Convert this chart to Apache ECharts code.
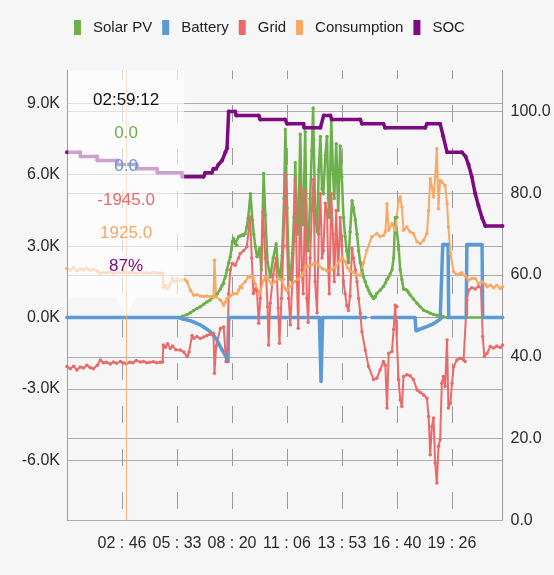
<!DOCTYPE html>
<html>
<head>
<meta charset="utf-8">
<script src="https://cdn.jsdelivr.net/npm/echarts@6/dist/echarts.min.js"></script>
<style>
  html, body { margin: 0; padding: 0; background: #f6f6f6; }
  #chart { width: 554px; height: 575px; }
</style>
</head>
<body>
<div id="chart"></div>
<script>
// Daily energy flow. Each point: [minutes after midnight, watts] (SOC in percent).
const seriesNames = ['Solar PV', 'Battery', 'Grid', 'Consumption', 'SOC'];

const solarPV = [[0,0],[179.2,0],[338,0],[350,50],[364,120],[374,200],[384,300],[394,380],[404,450],[414,560],[424,650],[434,740],[444,860],[455,990],[465,1200],[470,1350],[475,1430],[480,1700],[485,2000],[490,2300],[495,2550],[501,3180],[505,3320],[510,3100],[515,3040],[520,3390],[525,3420],[530,3460],[535,3450],[540,3520],[545,3800],[549,4160],[556,5200],[562,4090],[566,3500],[571,2970],[576,2550],[581,2750],[584,2900],[589,2000],[596,6050],[601,4300],[608,2300],[616,1700],[625,2500],[634,3100],[640,2000],[646,1700],[652,2600],[658,5000],[662,7900],[667,4600],[672,2200],[677,1600],[683,2700],[688,4200],[692,6500],[697,4000],[701,3500],[707,7700],[712,4200],[716,3900],[722,7800],[727,3300],[731,2800],[737,5000],[742,7000],[746,8800],[752,4500],[758,3600],[763,6200],[768,7600],[773,5400],[777,5200],[783,6800],[788,7600],[792,5000],[795,4200],[801,8300],[806,6200],[810,5000],[816,7300],[822,4500],[828,7200],[833,5900],[838,4200],[843,3400],[848,2800],[853,2300],[858,3600],[864,4900],[868,4600],[874,4100],[879,3500],[884,2800],[889,2300],[894,2000],[899,1700],[904,1500],[909,1300],[914,1150],[919,1000],[924,900],[929,800],[934,850],[939,1000],[949,1150],[959,1300],[965,1450],[970,1600],[975,1700],[980,1850],[985,2000],[990,2500],[995,4200],[1000,4200],[1005,3000],[1010,2000],[1015,1600],[1020,1200],[1025,1180],[1030,1150],[1035,1050],[1040,950],[1050,780],[1061,600],[1071,450],[1081,310],[1091,250],[1101,180],[1111,130],[1121,100],[1131,60],[1141,30],[1152,0],[1320,0]];

const battery = [[0,0],[179.2,0],[338,0],[350,-60],[364,-100],[374,-134],[384,-190],[394,-250],[404,-314],[414,-400],[424,-490],[434,-595],[444,-750],[455,-943],[462,-1150],[470,-1362],[478,-1550],[485,-1710],[488,-1860],[490,0],[765,0],[770,-2690],[775,0],[906,0],[907,null],[924,0],[1055,0],[1058,-560],[1064,-520],[1071,-480],[1081,-430],[1091,-380],[1101,-320],[1111,-260],[1121,-170],[1131,-63],[1137,0],[1139,3070],[1155,3070],[1157,0],[1210,0],[1212,3070],[1258,3070],[1260,0],[1320,0]];

const grid = [[0,-2060],[10,-2150],[20,-2050],[30,-2200],[40,-2080],[50,-2120],[60,-2000],[70,-2100],[80,-2150],[92,-2000],[101,-1780],[110,-1900],[120,-1880],[131,-1950],[140,-1870],[150,-1920],[162,-1850],[170,-1900],[179.2,-1945],[190,-1880],[200,-1900],[210,-1800],[222,-1870],[232,-1850],[242,-1900],[252,-1880],[262,-1860],[272,-1900],[283,-1880],[290,-1870],[292,-1150],[298,-1250],[305,-1100],[313,-1300],[320,-1200],[330,-1350],[343,-1360],[354,-1450],[364,-1640],[370,-1450],[379,-750],[384,-870],[394,-800],[404,-880],[414,-820],[424,-750],[434,-700],[444,-660],[447,-2340],[452,-1200],[465,-450],[475,-400],[482,-1850],[486,-1400],[490,1000],[495,2000],[501,2270],[510,2200],[520,2500],[525,2690],[535,2800],[545,2970],[555,4220],[560,2500],[565,1010],[571,1200],[576,1100],[581,-240],[586,800],[594,4430],[601,2500],[608,450],[611,-1150],[616,600],[625,1800],[634,2500],[640,400],[644,-1080],[650,800],[656,3000],[662,6000],[667,3000],[672,800],[677,-300],[683,1500],[688,3200],[692,5800],[697,1500],[701,-450],[707,5500],[712,2000],[716,1000],[722,5300],[727,800],[731,-200],[737,2500],[742,4500],[747,5800],[752,1500],[758,200],[763,3500],[768,5200],[773,2500],[777,2800],[783,4800],[788,4500],[792,2000],[795,1000],[801,5200],[806,3500],[810,1500],[816,4500],[822,1800],[828,4200],[833,3000],[838,1500],[843,1000],[848,500],[853,300],[858,900],[864,2900],[868,2500],[874,2000],[879,1500],[884,800],[889,180],[894,-600],[904,-1360],[914,-2060],[929,-2600],[939,-2550],[949,-2200],[959,-1850],[965,-2000],[970,-3800],[975,-1500],[985,-1430],[990,-500],[995,520],[1000,450],[1005,-2600],[1010,-3460],[1015,-3740],[1020,-2480],[1030,-2400],[1040,-2450],[1050,-2600],[1061,-3040],[1071,-3150],[1081,-3250],[1091,-3390],[1096,-4160],[1101,-5760],[1106,-4580],[1111,-4220],[1116,-6110],[1121,-6950],[1126,-5410],[1131,-5130],[1136,-2760],[1141,-2480],[1146,-2900],[1152,-940],[1156,-3800],[1162,-3600],[1167,-2760],[1172,-2060],[1182,-1780],[1192,-1710],[1202,-1780],[1207,-1850],[1212,730],[1217,1150],[1227,1250],[1237,1200],[1247,1300],[1255,1250],[1260,-800],[1265,-1640],[1273,-1500],[1283,-1220],[1293,-1280],[1303,-1200],[1313,-1260],[1320,-1150]];

const consumption = [[0,2060],[10,2000],[20,2100],[30,1950],[40,2050],[50,2000],[60,2080],[70,1980],[80,2020],[92,1950],[101,1850],[110,1900],[120,1880],[131,1920],[140,1860],[150,1900],[162,1880],[170,1900],[179.2,1925],[190,1880],[200,1900],[210,1850],[222,1900],[232,1870],[242,1880],[252,1860],[262,1900],[272,1880],[283,1860],[290,1850],[292,1280],[298,1350],[305,1200],[313,1400],[319,1640],[325,1500],[333,1550],[343,1570],[350,1580],[357,1600],[364,1500],[374,1150],[384,940],[394,960],[404,900],[414,880],[424,900],[434,870],[444,870],[447,2410],[452,870],[465,730],[475,520],[480,650],[485,800],[495,900],[505,1000],[515,1000],[520,1150],[525,1300],[530,1250],[540,1500],[549,1700],[555,1700],[560,1750],[565,1650],[571,1400],[581,1000],[586,1100],[596,1560],[601,1700],[608,1650],[620,1400],[630,1500],[640,1650],[650,1550],[656,1600],[662,1200],[667,1150],[677,1300],[688,1500],[700,1600],[712,1750],[722,2100],[730,2150],[740,2200],[747,2250],[755,2300],[765,2150],[775,2050],[788,1950],[800,2000],[815,2150],[828,2400],[835,2500],[843,2350],[850,2100],[858,1950],[868,1900],[878,1800],[889,1780],[899,2300],[909,2830],[924,3390],[939,3530],[949,3400],[959,3450],[965,3600],[970,4780],[975,3670],[985,3950],[995,3670],[1005,4920],[1010,5060],[1015,4640],[1020,3670],[1030,3800],[1040,3600],[1050,3530],[1061,3180],[1071,3110],[1081,3250],[1091,3530],[1096,4500],[1101,5830],[1106,5480],[1111,5060],[1116,5900],[1121,7090],[1126,4570],[1131,5760],[1136,5700],[1146,5550],[1152,4780],[1156,3800],[1162,2690],[1172,1920],[1182,1800],[1192,1850],[1197,1880],[1207,1750],[1217,1570],[1227,1650],[1237,1640],[1247,1430],[1258,1500],[1268,1400],[1273,1290],[1283,1360],[1293,1250],[1303,1350],[1313,1220],[1320,1300]];

const soc = [[0,90],[40,90],[41,89],[91,89],[92,88],[152,88],[153,87],[212,87],[213,86],[273,86],[274,85],[348,85],[349,84],[414,84],[419,85],[439,85],[444,86],[452,86],[459,87],[470,88],[480,90],[485,91],[490,100],[510,100],[513,99],[581,99],[586,98],[661,98],[667,97],[717,97],[719,96],[768,96],[778,99],[798,99],[803,98],[889,98],[894,97],[959,97],[964,96],[1086,96],[1091,97],[1131,97],[1140,94],[1152,90],[1197,90],[1208,89],[1217,87],[1227,84],[1237,80],[1247,77],[1258,74],[1268,72],[1320,72]];

const powerTicks = [-6000, -3000, 0, 3000, 6000, 9000];
const socTicks = [0, 20, 40, 60, 80, 100];
const dayEndSec = 79200;
const cursorSec = 10752;   // highlighted sample (02:59:12)

const colors = ['#6db04b', '#5b9bd5', '#ea6a6a', '#f8a862', '#7d0a80'];
const FONT = "'Liberation Sans', Arial, sans-serif";

const toSec = pts => pts.map(p => [p[0] * 60, p[1]]);
const powerSeries = [solarPV, battery, grid, consumption];

// Power axis leaves 10% of the data range free above and below.
const allW = powerSeries.flat().map(p => p[1]).filter(v => v !== null);
const wMax = Math.max(...allW), wMin = Math.min(...allW);
const wPad = (wMax - wMin) * 0.1;
const yMax = wMax + wPad, yMin = wMin - wPad;

const pad2 = n => String(n).padStart(2, '0');

function valueAt(pts, minute) {
  for (let i = 0; i < pts.length - 1; i++) {
    const a = pts[i], b = pts[i + 1];
    if (a[1] === null || b[1] === null) continue;
    if (minute >= a[0] && minute <= b[0]) {
      if (b[0] === a[0]) return a[1];
      return a[1] + (b[1] - a[1]) * (minute - a[0]) / (b[0] - a[0]);
    }
  }
  return 0;
}

const chart = echarts.init(document.getElementById('chart'));

const lineWidths = [2.5, 3.5, 2, 2, 3.5];
const sources = [solarPV, battery, grid, consumption, soc];

const series = sources.map((pts, i) => ({
  name: seriesNames[i],
  type: 'line',
  yAxisIndex: i === 4 ? 1 : 0,
  data: toSec(pts),
  symbol: 'circle',
  symbolSize: i === 4 ? 4 : 3.5,
  showSymbol: true,
  connectNulls: false,
  lineStyle: { width: lineWidths[i], color: colors[i] },
  itemStyle: { color: colors[i] },
  emphasis: { disabled: true },
  animation: false
}));

series[3].markLine = {
  silent: true,
  symbol: ['none', 'none'],
  label: { show: false },
  lineStyle: { color: '#f5b27a', width: 1, type: 'solid' },
  data: [{ xAxis: cursorSec }],
  animation: false
};

chart.setOption({
  backgroundColor: '#f6f6f6',
  animation: false,
  color: colors,
  legend: {
    data: seriesNames,
    left: 69,
    top: 15,
    icon: 'rect',
    itemWidth: 7,
    itemHeight: 15,
    itemGap: 10,
    textStyle: {
      fontFamily: FONT,
      fontSize: 15,
      color: '#222',
      padding: [0, 0, 0, 7]
    }
  },
  grid: {
    left: 67, right: 51.5, top: 70.5, bottom: 54.5,
    containLabel: false,
    outerBoundsMode: 'none'
  },
  xAxis: {
    type: 'value',
    min: 0,
    max: dayEndSec,
    interval: 10000,
    axisLine: { show: true, lineStyle: { color: '#9e9e9e', width: 1 } },
    axisTick: { show: false },
    axisLabel: {
      color: '#2a2a2a', fontFamily: FONT, fontSize: 16, margin: 15,
      showMinLabel: false, showMaxLabel: false,
      formatter: v => pad2(Math.floor(v / 3600)) + ' : ' + pad2(Math.floor((v % 3600) / 60))
    },
    splitLine: {
      show: true,
      lineStyle: { color: '#9a9a9a', width: 1, type: [17, 26], dashOffset: 8.5 }
    }
  },
  yAxis: [
    {
      type: 'value',
      min: yMin,
      max: yMax,
      position: 'left',
      axisLine: { show: true, lineStyle: { color: '#9e9e9e', width: 1 } },
      axisTick: { show: false, customValues: powerTicks },
      axisLabel: {
        customValues: powerTicks,
        color: '#2a2a2a', fontFamily: FONT, fontSize: 16, margin: 7,
        formatter: v => (v / 1000).toFixed(1) + 'K'
      },
      splitLine: { show: true, lineStyle: { color: '#adadad', width: 1 } }
    },
    {
      type: 'value',
      min: 0,
      max: 110,
      position: 'right',
      axisLine: { show: true, lineStyle: { color: '#9e9e9e', width: 1 } },
      axisTick: { show: false, customValues: socTicks },
      axisLabel: {
        customValues: socTicks,
        color: '#2a2a2a', fontFamily: FONT, fontSize: 16, margin: 8,
        formatter: v => v.toFixed(1)
      },
      splitLine: { show: true, lineStyle: { color: '#adadad', width: 1 } }
    }
  ],
  series
});

// Value balloon for the highlighted sample, anchored through the axes.
const cursorMin = cursorSec / 60;
const [cx, zeroY] = chart.convertToPixel({ xAxisIndex: 0, yAxisIndex: 0 }, [cursorSec, 0]);
const topY = chart.convertToPixel({ yAxisIndex: 0 }, yMax);
const half = 58;
const boxBottom = zeroY - 20;
const tip = zeroY - 2;

const hh = Math.floor(cursorSec / 3600), mm = Math.floor((cursorSec % 3600) / 60), ss = cursorSec % 60;
const rows = [
  { text: pad2(hh) + ':' + pad2(mm) + ':' + pad2(ss), color: '#111' },
  { text: valueAt(solarPV, cursorMin).toFixed(1), color: colors[0] },
  { text: valueAt(battery, cursorMin).toFixed(1), color: colors[1] },
  { text: valueAt(grid, cursorMin).toFixed(1), color: colors[2] },
  { text: valueAt(consumption, cursorMin).toFixed(1), color: colors[3] },
  { text: Math.round(valueAt(soc, cursorMin)) + '%', color: colors[4] }
];

const elements = [{
  type: 'polygon',
  z: 100,
  silent: true,
  shape: {
    points: [
      [cx - half, topY], [cx + half, topY], [cx + half, boxBottom],
      [cx + 11, boxBottom], [cx, tip], [cx - 11, boxBottom], [cx - half, boxBottom]
    ]
  },
  style: { fill: 'rgba(255,255,255,0.62)' }
}];
rows.forEach((r, i) => {
  elements.push({
    type: 'text',
    z: 101,
    silent: true,
    x: cx,
    y: topY + 29.5 + i * 33.3,
    style: {
      text: r.text,
      fill: r.color,
      font: '17px ' + FONT,
      align: 'center',
      verticalAlign: 'middle'
    }
  });
});

chart.setOption({ graphic: { elements } });
</script>
</body>
</html>
